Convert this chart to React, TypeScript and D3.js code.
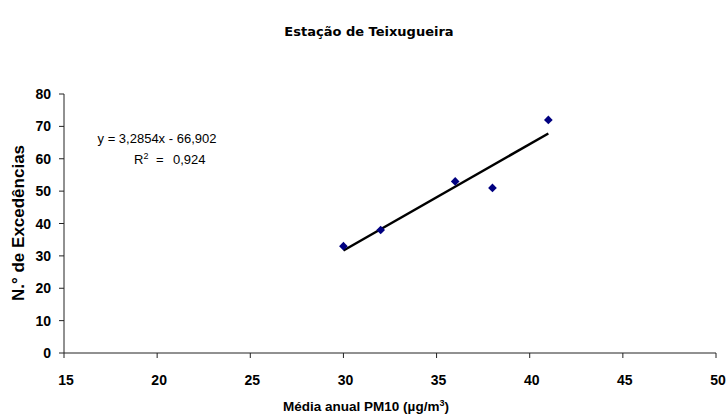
import React from "react";
import * as d3 from "d3";

const pm10 = [30, 32, 36, 38, 41];
const exceedances = [33, 38, 53, 51, 72];
const xTicks = [15, 20, 25, 30, 35, 40, 45, 50];
const yTicks = [0, 10, 20, 30, 40, 50, 60, 70, 80];
const slope = 3.2854;
const intercept = -66.902;

export default function App() {
  const W = 728, H = 416;
  const left = 64, right = 716, top = 94, bottom = 353;
  const x = d3.scaleLinear().domain([15, 50]).range([left, right]);
  const y = d3.scaleLinear().domain([0, 80]).range([bottom, top]);
  const xMin = d3.min(pm10)!, xMax = d3.max(pm10)!;
  const line = d3.line<number>().x((d) => x(d)).y((d) => y(slope * d + intercept));
  const diamond = d3.symbol().type(d3.symbolDiamond2).size(48)();
  const arial = "Arial, 'Liberation Sans', sans-serif";
  const verdana = "Verdana, 'DejaVu Sans', sans-serif";
  return (
    <svg width={W} height={H} style={{ position: "absolute", left: 0, top: 0, background: "#fff" }} fontFamily={arial}>
      <text x={369} y={36} textAnchor="middle" fontSize={13} fontWeight="bold" fontFamily={verdana}>Estação de Teixugueira</text>
      {/* axes */}
      <line x1={left} x2={left} y1={top} y2={bottom} stroke="#222" />
      <line x1={left} x2={right} y1={bottom} y2={bottom} stroke="#222" />
      {yTicks.map((t) => (
        <g key={"y" + t}>
          <line x1={left - 5} x2={left} y1={y(t)} y2={y(t)} stroke="#222" />
          <text x={left - 13} y={y(t)} dy="0.36em" textAnchor="end" fontSize={14} fontWeight="bold">{t}</text>
        </g>
      ))}
      {xTicks.map((t) => (
        <g key={"x" + t}>
          <line x1={x(t)} x2={x(t)} y1={bottom} y2={bottom + 5} stroke="#222" />
          <text x={x(t) + 2} y={385} textAnchor="middle" fontSize={14} fontWeight="bold">{t}</text>
        </g>
      ))}
      <text transform={`translate(24,${223}) rotate(-90)`} textAnchor="middle" fontSize={17} fontWeight="bold">N.° de Excedências</text>
      <text x={366} y={411} textAnchor="middle" fontSize={13.5} fontWeight="bold">
        Média anual PM10 (µg/m<tspan dy={-5} fontSize={9}>3</tspan><tspan dy={5}>)</tspan>
      </text>
      {/* trend line */}
      <path d={line([xMin, xMax]) || ""} stroke="#000" strokeWidth={2.5} fill="none" />
      {pm10.map((v, i) => (
        <path key={i} d={diamond || ""} transform={`translate(${x(v)},${y(exceedances[i])})`} fill="#000080" />
      ))}
      <text x={157} y={143} textAnchor="middle" fontSize={13}>y = 3,2854x - 66,902</text>
      <text x={134} y={164} fontSize={13}>
        R<tspan dy={-5} fontSize={9}>2</tspan><tspan dy={5} x={156}>=</tspan><tspan x={173}>0,924</tspan>
      </text>
    </svg>
  );
}
